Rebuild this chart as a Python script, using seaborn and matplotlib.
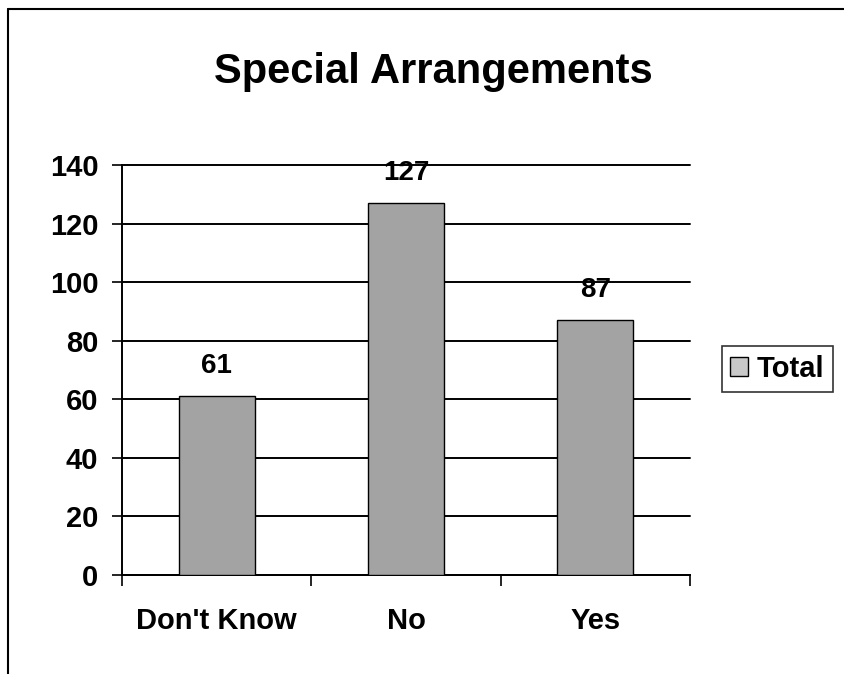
import matplotlib
matplotlib.use("Agg")
import matplotlib.pyplot as plt
import matplotlib.patches as mpatches
from matplotlib.lines import Line2D
import seaborn as sns
import pandas as pd

# data
categories = ["Don't Know", "No", "Yes"]
totals = [61, 127, 87]

df = pd.DataFrame({"answer": categories, "Total": totals})

sns.set_style("white")
plt.rcParams['font.family'] = ['Liberation Sans', 'DejaVu Sans']
plt.rcParams['font.weight'] = 'bold'
plt.rcParams['text.color'] = 'black'
plt.rcParams['xtick.color'] = 'black'
plt.rcParams['ytick.color'] = 'black'

fig = plt.figure(figsize=(8.44, 6.74), dpi=100)
ax = fig.add_axes([122/844, 99/674, 568/844, 410/674])

bar_col = "#a3a3a3"
sns.barplot(data=df, x="answer", y="Total", color=bar_col, edgecolor="black",
            linewidth=1.0, width=0.4, saturation=1, ax=ax, zorder=3)

ax.set_ylim(0, 140)
ax.set_xlim(-0.5, 2.5)
ax.set_yticks(range(0, 141, 20))
ax.yaxis.grid(True, color="black", linewidth=1.4, zorder=0)
ax.set_axisbelow(True)
for gl in ax.get_ygridlines():
    gl.set_clip_on(False)

# ticks between categories, labels centred under bars
ax.set_xticks([-0.5, 0.5, 1.5, 2.5])
ax.set_xticklabels([])
ax.set_xticks([0, 1, 2], minor=True)
ax.set_xticklabels(categories, minor=True, fontsize=21, fontweight='bold')
ax.tick_params(axis='x', which='major', length=8, width=1.2, direction='out', bottom=True)
ax.tick_params(axis='x', which='minor', length=0, pad=23)
ax.tick_params(axis='y', length=7, width=1.2, direction='out', left=True, labelsize=21, pad=10)
for lab in ax.get_yticklabels():
    lab.set_fontweight('bold')

ax.set_xlabel("")
ax.set_ylabel("")
for s in ["top", "right"]:
    ax.spines[s].set_visible(False)
for s in ["left", "bottom"]:
    ax.spines[s].set_color("black")
    ax.spines[s].set_linewidth(1.4)

for i, v in enumerate(totals):
    ax.text(i, v + 6, str(v), ha='center', va='bottom', fontsize=20, fontweight='bold')

fig.text(433/844, 1 - 72/674, "Special Arrangements", ha='center', va='center',
         fontsize=30, fontweight='bold')

handle = mpatches.Patch(facecolor="#c8c8c8", edgecolor="black", linewidth=1.0)
leg = fig.legend([handle], ["Total"], loc='center left', bbox_to_anchor=(707/844, 1 - 369/674),
                 frameon=True, fancybox=False, edgecolor="black", fontsize=21,
                 handlelength=0.6, handleheight=0.6, handletextpad=0.3, borderpad=0.3)
leg.get_frame().set_linewidth(1.2)
for t in leg.get_texts():
    t.set_fontweight('bold')

# outer frame (top and left edges visible)
fig.add_artist(Line2D([8/844, 1], [1 - 9/674, 1 - 9/674], color="black", linewidth=1.5))
fig.add_artist(Line2D([8/844, 8/844], [0, 1 - 9/674], color="black", linewidth=1.5))

fig.savefig("out.png", dpi=100)
